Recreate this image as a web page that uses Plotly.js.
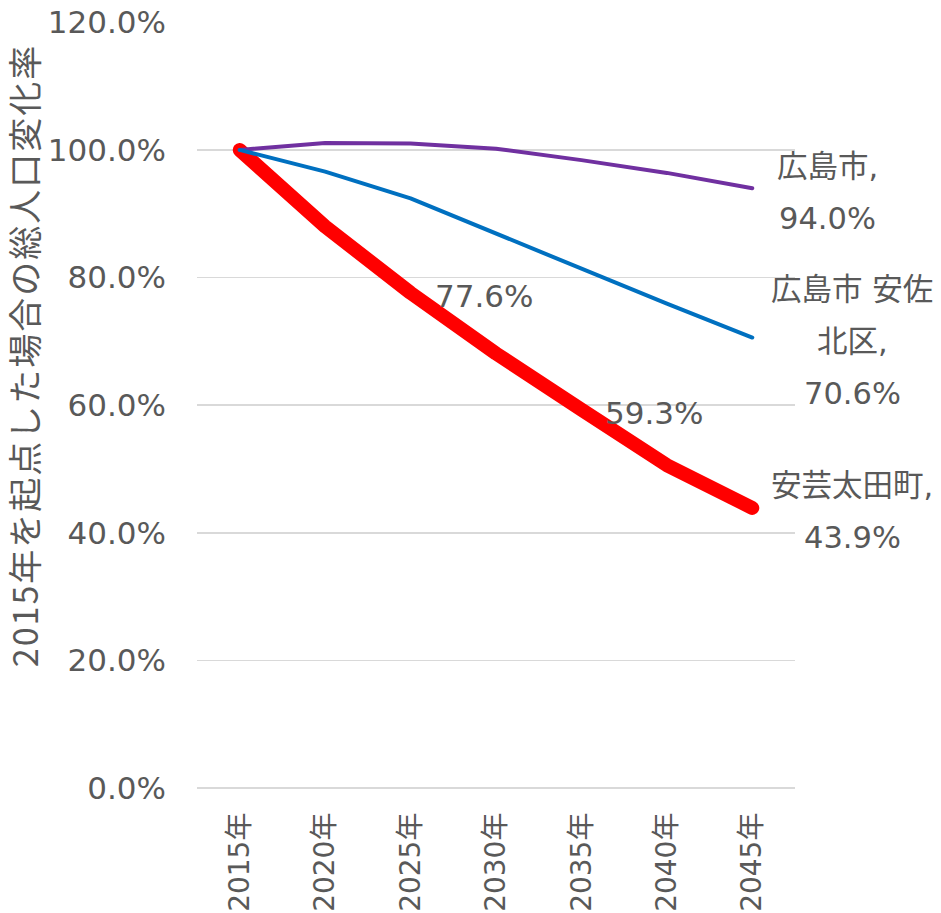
<!DOCTYPE html>
<html>
<head>
<meta charset="utf-8">
<script src="https://cdn.plot.ly/plotly-3.0.1.min.js"></script>
<style>
  body { margin: 0; background: #fff; }
  .js-line { stroke-linecap: round; stroke-linejoin: round; }
  .annotation.ytitle text { letter-spacing: 2px; }
</style>
</head>
<body>
<div id="chart" style="width:941px;height:913px;"></div>
<script>
// Categories (years)
const years = ['2015年', '2020年', '2025年', '2030年', '2035年', '2040年', '2045年'];

// Population change rate vs 2015 (%)
const akiotaValues = [100.0, 88.0, 77.6, 68.1, 59.3, 50.6, 43.9];
const asakitaValues = [100.0, 96.6, 92.4, 86.9, 81.3, 75.9, 70.6];
const hiroshimaValues = [100.0, 101.1, 101.0, 100.2, 98.4, 96.4, 94.0];

// Series names as wrapped in the end labels
const akiotaName = ['安芸太田町'];
const asakitaName = ['広島市 安佐', '北区'];
const hiroshimaName = ['広島市'];

// Points of the red series that carry a value label
const akiotaLabelIdx = [2, 4];

const yTicks = [0, 20, 40, 60, 80, 100, 120];

const textColor = '#595959';
const latinFont = 'DejaVu Sans, Noto Sans CJK JP, sans-serif';

const fmt = v => v.toFixed(1) + '%';

const series = [
    { name: '安芸太田町', y: akiotaValues, lines: akiotaName, color: '#FF0000', width: 14, dx: 100 },
    { name: '広島市', y: hiroshimaValues, lines: hiroshimaName, color: '#7030A0', width: 4, dx: 75 },
    { name: '広島市 安佐北区', y: asakitaValues, lines: asakitaName, color: '#0070C0', width: 4, dx: 100 }
];

const data = series.map(s => ({
    x: years,
    y: s.y,
    name: s.name,
    type: 'scatter',
    mode: 'lines',
    line: { color: s.color, width: s.width },
    hoverinfo: 'skip'
}));

// End-of-line labels: name lines, last one with a comma, then the value
const annotations = [];
const lineGap = 52;
series.forEach(s => {
    const last = s.y.length - 1;
    const rows = s.lines.slice();
    rows[rows.length - 1] += ',';
    rows.push(fmt(s.y[last]));
    const n = rows.length;
    rows.forEach((txt, i) => {
        annotations.push({
            x: years[last],
            y: s.y[last],
            text: txt,
            showarrow: false,
            xanchor: 'center',
            yanchor: 'middle',
            xshift: s.dx,
            yshift: -((i - (n - 1) / 2) * lineGap + 4),
            font: { family: latinFont, size: 30.5, color: textColor }
        });
    });
});

// Value labels on the red line
akiotaLabelIdx.forEach(i => {
    annotations.push({
        x: years[i],
        y: akiotaValues[i],
        text: fmt(akiotaValues[i]),
        showarrow: false,
        xanchor: 'left',
        yanchor: 'middle',
        xshift: 22,
        yshift: -3,
        font: { family: latinFont, size: 31, color: textColor }
    });
});

// Axis title placed as annotation (it sits above the plot's middle)
const titleIndex = annotations.length;
annotations.push({
    xref: 'paper',
    yref: 'paper',
    x: -0.289,
    y: 0.564,
    text: '2015年を起点した場合の総人口変化率',
    textangle: -90,
    showarrow: false,
    xanchor: 'center',
    yanchor: 'middle',
    font: { family: 'Noto Sans CJK JP, sans-serif', size: 34, color: textColor }
});

const layout = {
    width: 941,
    height: 913,
    margin: { l: 197, r: 146, t: 22, b: 125 },
    paper_bgcolor: '#ffffff',
    plot_bgcolor: '#ffffff',
    showlegend: false,
    xaxis: {
        type: 'category',
        range: [-0.5, 6.5],
        showgrid: false,
        zeroline: false,
        showline: false,
        ticks: '',
        tickangle: -90,
        ticklabelstandoff: 18,
        tickfont: { family: latinFont, size: 28, color: textColor }
    },
    yaxis: {
        range: [0, 120.05],
        tickvals: yTicks,
        ticktext: yTicks.map(fmt),
        showgrid: true,
        gridcolor: '#D9D9D9',
        gridwidth: 1.5,
        zeroline: true,
        zerolinecolor: '#D9D9D9',
        zerolinewidth: 1.5,
        showline: false,
        ticks: '',
        ticklabelstandoff: 30,
        tickfont: { family: latinFont, size: 31, color: textColor }
    },
    annotations: annotations
};

Plotly.newPlot('chart', data, layout, { staticPlot: true }).then(gd => {
    const g = gd.querySelector('.annotation[data-index="' + titleIndex + '"]');
    if (g) g.classList.add('ytitle');
});
</script>
</body>
</html>
